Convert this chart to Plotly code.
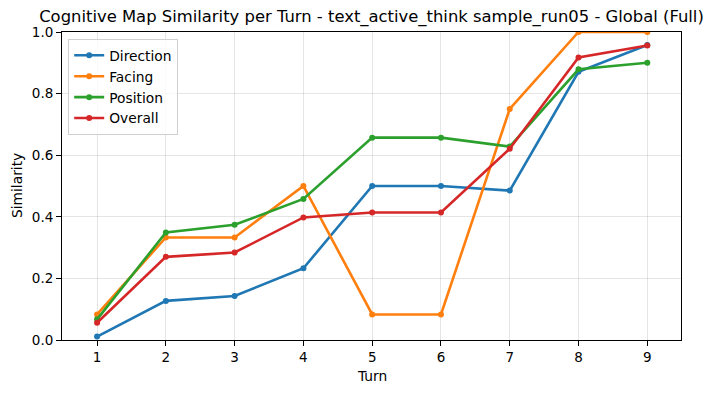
import plotly.graph_objects as go

turns = [1, 2, 3, 4, 5, 6, 7, 8, 9]
direction = [0.011, 0.127, 0.143, 0.233, 0.5, 0.5, 0.485, 0.871, 0.958]
facing = [0.083, 0.333, 0.333, 0.5, 0.083, 0.083, 0.75, 1.0, 1.0]
position = [0.067, 0.349, 0.374, 0.458, 0.657, 0.657, 0.628, 0.879, 0.9]
overall = [0.056, 0.27, 0.284, 0.398, 0.414, 0.414, 0.621, 0.917, 0.956]

series = [
    ("Direction", direction, "#1f77b4"),
    ("Facing", facing, "#ff7f0e"),
    ("Position", position, "#2ca02c"),
    ("Overall", overall, "#d62728"),
]

fig = go.Figure()
for name, vals, color in series:
    fig.add_trace(go.Scatter(
        x=turns, y=vals, name=name, mode="lines+markers",
        line=dict(color=color, width=2.6),
        marker=dict(color=color, size=6),
    ))

W, H = 709, 385
ML, MR, MT, MB = 54, 36, 24, 53
PW, PH = W - ML - MR, H - MT - MB
font = "DejaVu Sans, sans-serif"
fig.update_layout(
    width=W, height=H,
    margin=dict(l=ML, r=MR, t=MT, b=MB),
    paper_bgcolor="white", plot_bgcolor="white",
    font=dict(family=font, size=13, color="black"),
    title=dict(text="Cognitive Map Similarity per Turn - text_active_think sample_run05 - Global (Full)",
               x=363.5 / W, xanchor="center", y=1 - 8 / H, yanchor="middle",
               font=dict(size=16.4, family=font, color="black")),
    legend=dict(x=0.01, y=0.978, xanchor="left", yanchor="top",
                bgcolor="rgba(255,255,255,0.8)", bordercolor="#d0d0d0", borderwidth=1,
                font=dict(size=13.8, family=font), itemwidth=30,
                tracegroupgap=0),
    showlegend=True,
    annotations=[
        dict(text="Turn", xref="paper", yref="paper", x=0.5, y=(MT + PH - 368) / PH,
             xanchor="center", yanchor="middle", showarrow=False,
             font=dict(size=13.8, family=font, color="black")),
        dict(text="Similarity", xref="paper", yref="paper", x=(9 - ML) / PW, y=0.5,
             xanchor="center", yanchor="middle", showarrow=False, textangle=-90,
             font=dict(size=13.8, family=font, color="black")),
    ],
)
fig.update_xaxes(
    range=[0.49, 9.49], tickmode="array", tickvals=turns, ticktext=[str(t) for t in turns],
    showgrid=True, gridcolor="rgba(0,0,0,0.1)", gridwidth=1,
    showline=True, linecolor="black", linewidth=1, mirror=True,
    ticks="outside", ticklen=5, tickcolor="black", zeroline=False,
    automargin=False, tickfont=dict(size=13.5, family=font),
)
fig.update_yaxes(
    range=[0, 1], tickmode="array", tickvals=[0, 0.2, 0.4, 0.6, 0.8, 1.0],
    ticktext=["0.0", "0.2", "0.4", "0.6", "0.8", "1.0"],
    showgrid=True, gridcolor="rgba(0,0,0,0.1)", gridwidth=1,
    showline=True, linecolor="black", linewidth=1, mirror=True,
    ticks="outside", ticklen=5, tickcolor="black", zeroline=False,
    automargin=False, tickfont=dict(size=13.5, family=font),
)

fig.write_html("out.html")
